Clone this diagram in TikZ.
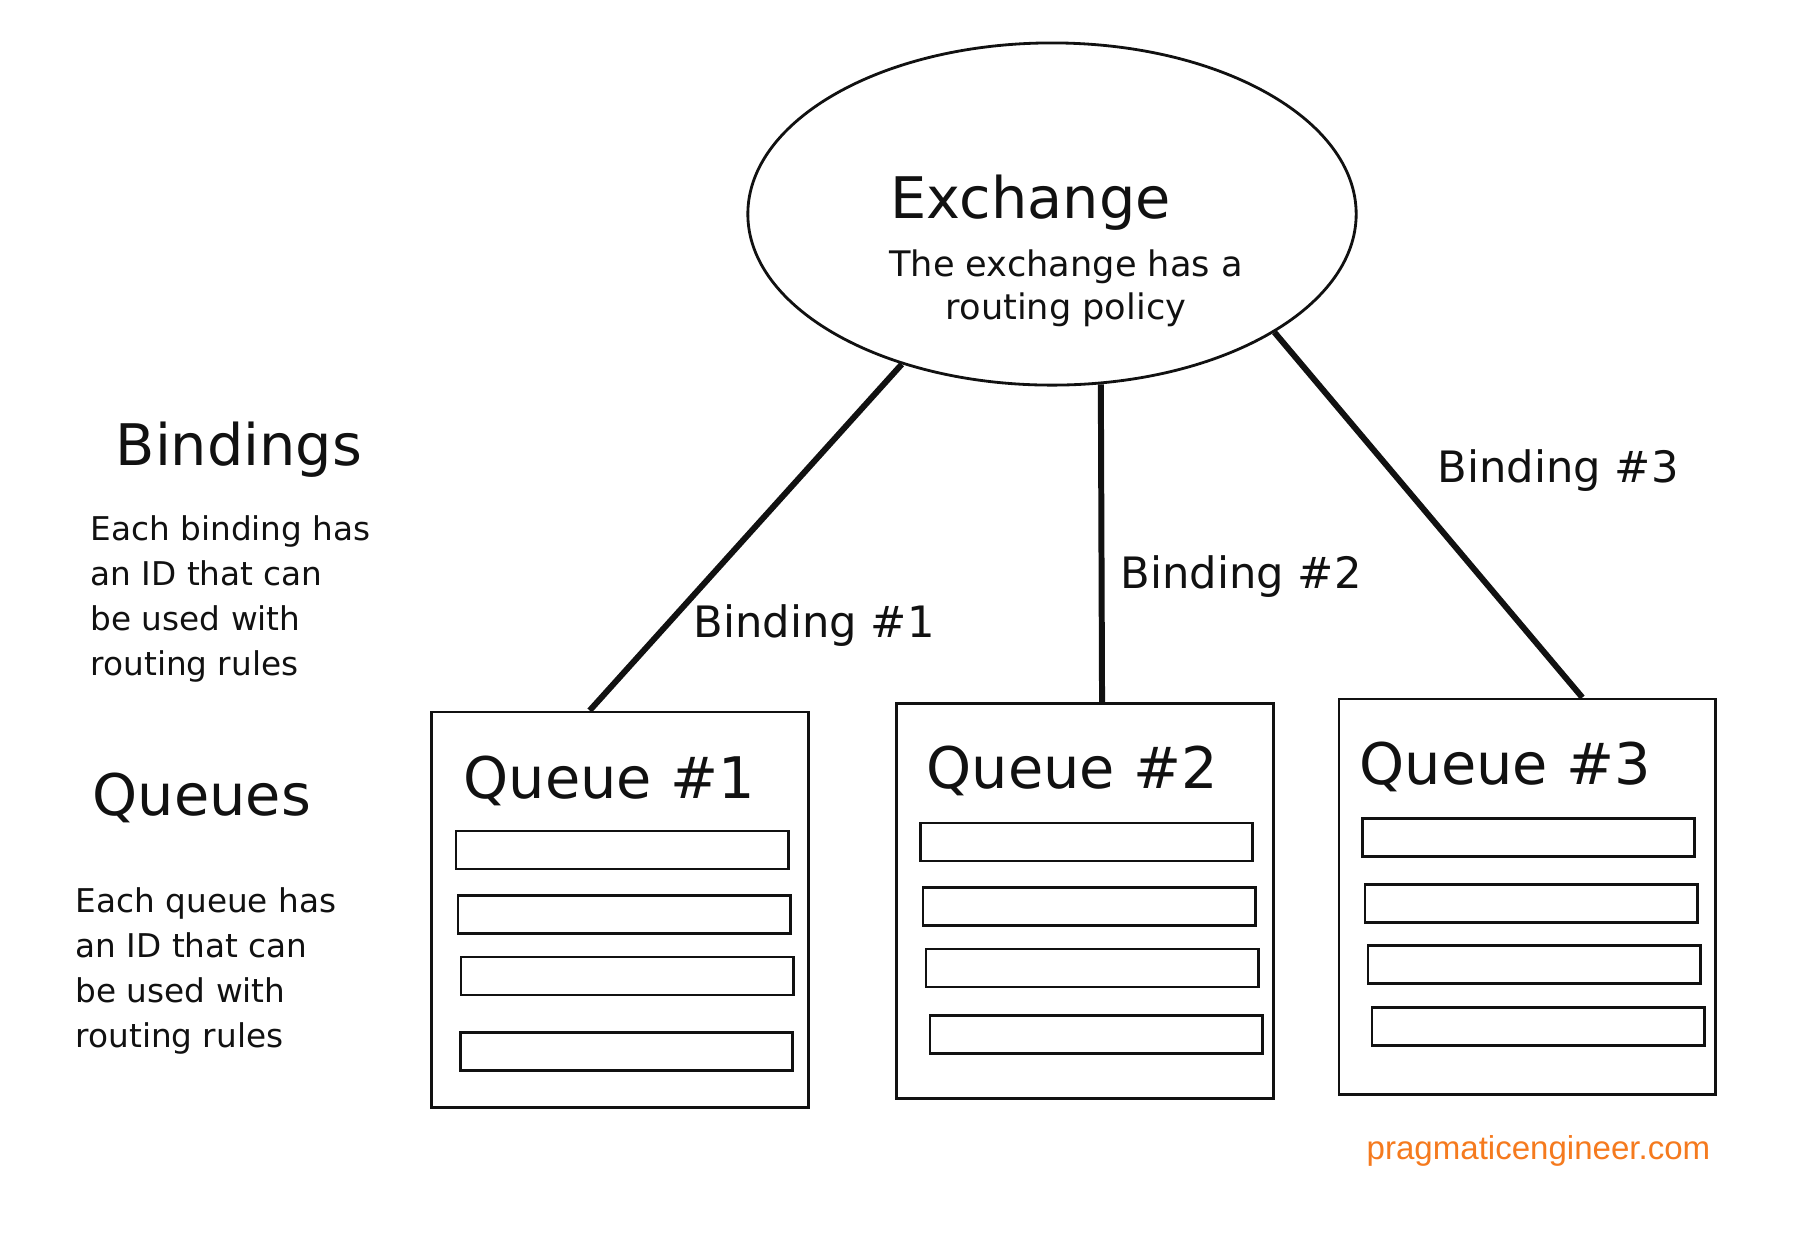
\documentclass[tikz,border=0pt]{standalone}
\usepackage{fontspec}
\setmainfont{DejaVu Sans}
\newfontfamily\urlfont{Liberation Sans}
\usetikzlibrary{shapes.geometric, calc}
\definecolor{inkClr}{HTML}{111111}
\definecolor{urlClr}{HTML}{F57A1E}
\newcommand{\ttl}{\fontsize{16.3}{19}\selectfont}
\newcommand{\lbl}{\fontsize{12.3}{15}\selectfont}
\newcommand{\sub}{\fontsize{10}{12.2}\selectfont}
\newcommand{\note}{\fontsize{9.3}{12.8}\selectfont}

\begin{document}
\begin{tikzpicture}[
  x=0.01cm, y=-0.01cm,
  inkClr,
  exch/.style={ellipse, draw, line width=0.8pt, minimum width=6.08cm,
               minimum height=3.42cm, inner sep=0pt},
  queuebox/.style={draw, line width=0.8pt, minimum width=3.76cm,
                   minimum height=3.95cm, inner sep=0pt},
  slot/.style={draw, line width=0.8pt, minimum width=3.32cm,
               minimum height=0.38cm, inner sep=0pt},
  link/.style={line width=1.7pt},
  txt/.style={inner sep=0pt, anchor=west},
]
\useasboundingbox (0,0) rectangle (1800,1232);

% ---------- exchange ----------
\node[exch] (exchange) at (1052,214) {};
\node[txt, font=\ttl] (exTitle) at (890,203) {Exchange};
\node[inner sep=0pt, align=center, font=\sub] (exText) at (1066,288)
  {The exchange has a\\routing policy};

% ---------- queues ----------
\node[queuebox] (q1) at (620,909.5) {};
\node[queuebox] (q2) at (1085,901) {};
\node[queuebox] (q3) at (1527,896.5) {};

\node[txt, font=\ttl] (q1Title) at (463,781) {Queue \#1};
\node[txt, font=\ttl] (q2Title) at (926,771) {Queue \#2};
\node[txt, font=\ttl] (q3Title) at (1359,767) {Queue \#3};

\foreach \n/\x/\y in {q1a/622/850, q1b/624/914.5, q1c/627/976, q1d/626.5/1051.5,
                      q2a/1086.5/842, q2b/1089/906.5, q2c/1092/968, q2d/1096/1034.5,
                      q3a/1528.5/837.5, q3b/1531/903.5, q3c/1534/964.5, q3d/1538/1026.5}
  \node[slot] (\n) at (\x,\y) {};

% ---------- bindings ----------
\draw[link] (exchange.225) -- ($(q1.north west)!0.42!(q1.north east)$);
\draw[link] (exchange.286) -- ($(q2.north west)!0.545!(q2.north east)$);
\draw[link] (exchange.332) -- ($(q3.north west)!0.646!(q3.north east)$);

\node[txt, font=\lbl] (b1) at (693,626) {Binding \#1};
\node[txt, font=\lbl] (b2) at (1120,577) {Binding \#2};
\node[txt, font=\lbl] (b3) at (1437,471) {Binding \#3};

% ---------- side notes ----------
\node[txt, font=\ttl] (bindHd) at (115,450) {Bindings};
\node[txt, align=left, font=\note] (bindTxt) at (90,598.5)
  {Each binding has\\an ID that can\\be used with\\routing rules};

\node[txt, font=\ttl] (queueHd) at (92,798) {Queues};
\node[txt, align=left, font=\note] (queueTxt) at (75,970.5)
  {Each queue has\\an ID that can\\be used with\\routing rules};

% ---------- watermark ----------
\node[inner sep=0pt, anchor=east, urlClr, font=\urlfont\fontsize{9.4}{11}\selectfont]
  (site) at (1711,1151) {pragmaticengineer.com};

\end{tikzpicture}
\end{document}
